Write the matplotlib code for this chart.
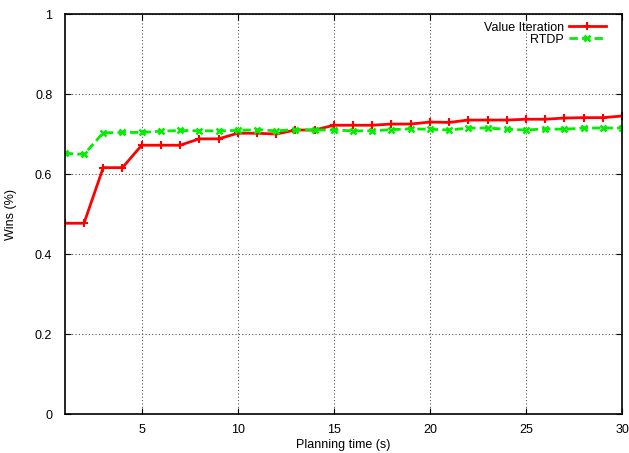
import matplotlib
matplotlib.use("Agg")
import matplotlib.pyplot as plt

plt.rcParams["font.family"] = ["Liberation Sans", "DejaVu Sans"]

planning_time = list(range(1, 31))
value_iteration = [0.477, 0.477, 0.616, 0.616, 0.672, 0.672, 0.672, 0.688, 0.688, 0.702,
                   0.702, 0.700, 0.710, 0.710, 0.722, 0.722, 0.722, 0.725, 0.725, 0.730,
                   0.729, 0.735, 0.735, 0.735, 0.737, 0.737, 0.740, 0.741, 0.741, 0.745]
rtdp = [0.652, 0.649, 0.703, 0.704, 0.704, 0.707, 0.709, 0.708, 0.708, 0.709,
        0.711, 0.708, 0.711, 0.710, 0.710, 0.708, 0.708, 0.711, 0.713, 0.712,
        0.710, 0.715, 0.715, 0.712, 0.710, 0.713, 0.712, 0.715, 0.715, 0.715]

fig = plt.figure(figsize=(6.29, 4.53), dpi=100)
ax = fig.add_axes([0.103, 0.086, 0.886, 0.883])

ax.plot(planning_time, value_iteration, color="#ff0000", lw=2, marker="+",
        ms=6, mew=1.5, label="Value Iteration")
ax.plot(planning_time, rtdp, color="#00ee00", lw=2, ls=(0, (3, 1.5)), marker="x",
        ms=5, mew=1.8, label="RTDP")

ax.set_xlim(1, 30)
ax.set_ylim(0, 1)
ax.set_xticks([5, 10, 15, 20, 25, 30])
ax.set_yticks([0, 0.2, 0.4, 0.6, 0.8, 1])
ax.set_yticklabels(["0", "0.2", "0.4", "0.6", "0.8", "1"])
ax.grid(True, color="#555555", ls=(0, (1, 2)), lw=0.8)
ax.tick_params(direction="in", top=True, right=True, labelsize=9, length=4)
ax.tick_params(axis="x", pad=7)
ax.tick_params(axis="y", pad=9)
for s in ax.spines.values():
    s.set_linewidth(1.2)

ax.set_xlabel("Planning time (s)", fontsize=9, labelpad=2)
ax.set_ylabel("Wins (%)", fontsize=9, labelpad=13)

leg = ax.legend(loc="upper right", frameon=False, fontsize=9, markerfirst=False,
                handlelength=3.0, borderaxespad=0.2, labelspacing=0.0,
                handletextpad=0.4, bbox_to_anchor=(0.985, 1.0))
for t in leg.get_texts():
    t.set_ha("right")

fig.savefig("out.png", dpi=100)
